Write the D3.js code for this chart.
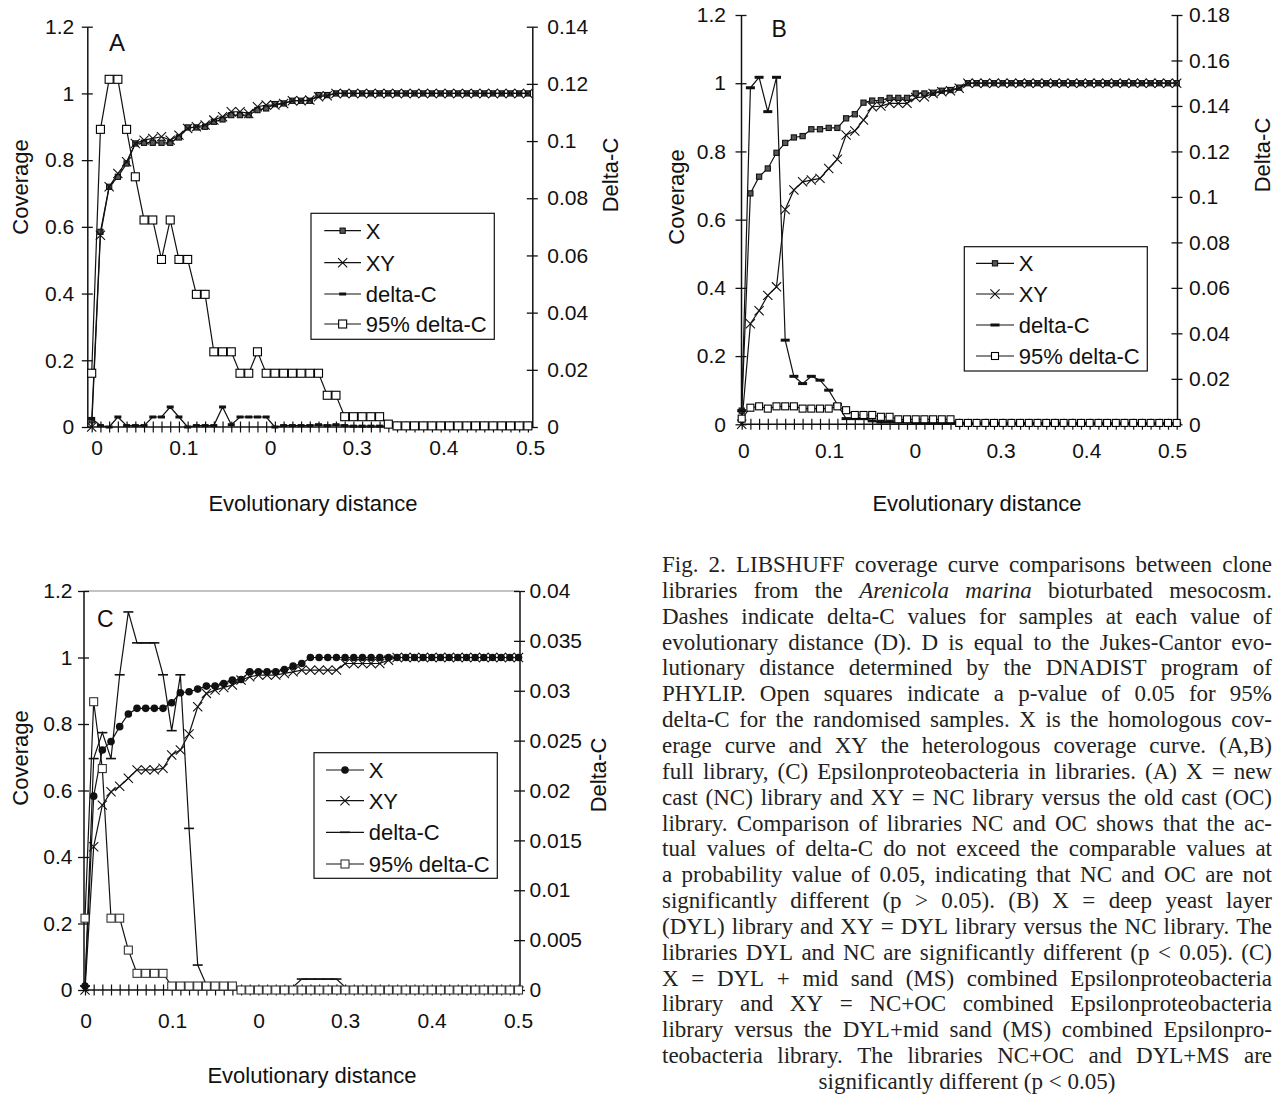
<!DOCTYPE html>
<html><head><meta charset="utf-8">
<script src="https://cdn.jsdelivr.net/npm/d3@7"></script>
<style>body{margin:0;background:#fff} svg{display:block}</style>
</head><body><svg id="c" width="1280" height="1094"></svg>
<script>
// ---------------- DATA ----------------
const distances = [0,0.01,0.02,0.03,0.04,0.05,0.06,0.07,0.08,0.09,0.1,0.11,0.12,0.13,0.14,0.15,0.16,0.17,0.18,0.19,0.2,
  0.21,0.22,0.23,0.24,0.25,0.26,0.27,0.28,0.29,0.3,0.31,0.32,0.33,0.34,0.35,0.36,0.37,0.38,0.39,0.4,
  0.41,0.42,0.43,0.44,0.45,0.46,0.47,0.48,0.49,0.5];
const xLabelValues = [0,0.1,0.2,0.3,0.4,0.5];
const xLabelTexts = ["0","0.1","0","0.3","0.4","0.5"];
const covTicks = [0,0.2,0.4,0.6,0.8,1,1.2];
const covTickLabels = ["0","0.2","0.4","0.6","0.8","1","1.2"];
const dcTicksA = [0,0.02,0.04,0.06,0.08,0.1,0.12,0.14];
const dcTickLabelsA = ["0","0.02","0.04","0.06","0.08","0.1","0.12","0.14"];
const dcTicksB = [0,0.02,0.04,0.06,0.08,0.1,0.12,0.14,0.16,0.18];
const dcTickLabelsB = ["0","0.02","0.04","0.06","0.08","0.1","0.12","0.14","0.16","0.18"];
const dcTicksC = [0,0.005,0.01,0.015,0.02,0.025,0.03,0.035,0.04];
const dcTickLabelsC = ["0","0.005","0.01","0.015","0.02","0.025","0.03","0.035","0.04"];
const legendLabels = ["X","XY","delta-C","95% delta-C"];
const panelLetters = ["A","B","C"];
const xTitle = "Evolutionary distance";
const yTitleLeft = "Coverage";
const yTitleRight = "Delta-C";

// Panel A
const A_X = [0.02,0.585,0.72,0.75,0.79,0.85,0.852,0.852,0.852,0.852,0.868,0.898,0.898,0.9,0.915,0.922,0.935,0.935,0.935,0.95,
  0.955,0.968,0.97,0.978,0.978,0.978,0.995,0.995,1,1,1,1,1,1,1,1,1,1,1,1,1,1,1,1,1,1,1,1,1,1,1];
const A_XY = [0,0.575,0.72,0.76,0.795,0.85,0.86,0.865,0.87,0.86,0.875,0.895,0.9,0.905,0.92,0.93,0.945,0.945,0.94,0.96,
  0.965,0.965,0.97,0.978,0.978,0.98,0.99,0.993,1,1,1,1,1,1,1,1,1,1,1,1,1,1,1,1,1,1,1,1,1,1,1];
const A_dC = [0.003,0.0005,0,0.0035,0.0005,0.0005,0.0005,0.0035,0.0035,0.007,0.0035,0,0.0005,0.0005,0.0005,0.007,0.0008,
  0.0035,0.0035,0.0035,0.0035,0,0.0005,0.0005,0.0005,0.0005,0.0008,0.0005,0.0008,0.0005,
  0.0003,0.0003,0.0003,0.0003,0.0003,0.0003,0.0003,0.0003,0.0003,0.0003,
  0.0002,0.0002,0.0002,0.0002,0.0002,0.0002,0.0002,0.0002,0.0002,0.0002,0.0002];
const A_95 = [0.0188,0.1041,0.1216,0.1216,0.1041,0.0875,0.0724,0.0724,0.0586,0.0724,0.0586,0.0586,0.0464,0.0464,
  0.0263,0.0263,0.0263,0.0188,0.0188,0.0263,0.0188,0.0188,0.0188,0.0188,0.0188,0.0188,0.0188,0.0111,0.0111,
  0.0036,0.0036,0.0036,0.0036,0.0036,0.001,
  0.0004,0.0004,0.0004,0.0004,0.0004,0.0004,0.0004,0.0004,0.0004,0.0004,0.0004,0.0004,0.0004,0.0004,0.0004,0.0004];

// Panel B
const B_X = [0.04,0.677,0.726,0.75,0.796,0.825,0.841,0.845,0.865,0.865,0.869,0.869,0.897,0.909,0.943,0.949,0.95,0.957,
  0.957,0.957,0.97,0.97,0.972,0.978,0.98,0.987,1,1,1,1,1,1,1,1,1,1,1,1,1,1,1,1,1,1,1,1,1,1,1,1,1];
const B_XY = [0,0.295,0.333,0.378,0.403,0.63,0.687,0.711,0.716,0.721,0.75,0.777,0.848,0.86,0.892,0.931,0.933,0.941,
  0.941,0.941,0.958,0.96,0.97,0.975,0.978,0.985,1,1,1,1,1,1,1,1,1,1,1,1,1,1,1,1,1,1,1,1,1,1,1,1,1];
const B_dC = [0.006,0.148,0.1526,0.1375,0.1526,0.037,0.0211,0.0179,0.0211,0.0194,0.015,0.0087,0.0025,0.0025,0.0025,
  0.0015,0.001,0.001,0.001,0.001,
  0.0005,0.0005,0.0005,0.0005,0.0005,0.0004,0.0004,0.0004,0.0004,0.0004,0.0003,0.0003,0.0003,0.0003,0.0003,0.0003,
  0.0003,0.0003,0.0003,0.0003,0.0003,0.0003,0.0003,0.0003,0.0003,0.0003,0.0003,0.0003,0.0003,0.0003,0.0003];
const B_95 = [0.0025,0.0073,0.0079,0.0069,0.0079,0.0079,0.0079,0.0069,0.0069,0.0069,0.0069,0.0079,0.0062,0.0041,0.0041,
  0.0041,0.0033,0.0033,0.0022,0.0022,0.0022,0.0022,0.0022,0.0022,0.0022,
  0.0006,0.0006,0.0006,0.0006,0.0006,0.0006,0.0006,0.0006,0.0006,0.0006,0.0006,0.0006,0.0006,0.0006,0.0006,0.0006,
  0.0006,0.0006,0.0006,0.0006,0.0006,0.0006,0.0006,0.0006,0.0006,0.0006];

// Panel C
const C_X = [0.012,0.583,0.722,0.747,0.792,0.83,0.847,0.847,0.847,0.847,0.864,0.894,0.897,0.905,0.914,0.914,0.922,0.932,
  0.934,0.957,0.957,0.957,0.957,0.964,0.974,0.982,1,1,1,1,1,1,1,1,1,1,1,1,1,1,1,1,1,1,1,1,1,1,1,1,1];
const C_XY = [0,0.431,0.556,0.596,0.613,0.637,0.662,0.662,0.662,0.667,0.707,0.722,0.77,0.852,0.892,0.902,0.91,0.917,
  0.932,0.942,0.947,0.947,0.947,0.952,0.957,0.962,0.962,0.962,0.962,0.962,0.982,0.982,0.982,0.982,0.982,0.992,
  1,1,1,1,1,1,1,1,1,1,1,1,1,1,1];
const C_dC = [0.0004,0.0232,0.0258,0.0232,0.0316,0.0379,0.0348,0.0348,0.0348,0.0316,0.026,0.0316,0.0162,0.0025,0.0005,0.0005,
  0.0003,0.0003,0.0003,0.0003,0.0003,0.0003,0.0003,0.0003,0.0003,
  0.0011,0.0011,0.0011,0.0011,0.0011,
  0.0003,0.0003,0.0003,0.0003,0.0003,0.0003,0.0003,0.0003,0.0003,0.0003,0.0003,0.0003,0.0003,0.0003,0.0003,0.0003,
  0.0003,0.0003,0.0003,0.0003,0.0003];
const C_95 = [0.0072,0.0289,0.0222,0.0072,0.0072,0.004,0.00167,0.00167,0.00167,0.00167,
  0.0004,0.0004,0.0004,0.0004,0.0004,0.0004,0.0004,0.0004,
  0,0,0,0,0,0,0,0,0,0,0,0,0,0,0,0,0,0,0,0,0,0,0,0,0,0,0,0,0,0,0,0,0];

const captionLines = [
  "Fig. 2. LIBSHUFF coverage curve comparisons between clone",
  "libraries from the *Arenicola* *marina* bioturbated mesocosm.",
  "Dashes indicate delta-C values for samples at each value of",
  "evolutionary distance (D). D is equal to the Jukes-Cantor evo-",
  "lutionary distance determined by the DNADIST program of",
  "PHYLIP. Open squares indicate a p-value of 0.05 for 95%",
  "delta-C for the randomised samples. X is the homologous cov-",
  "erage curve and XY the heterologous coverage curve. (A,B)",
  "full library, (C) Epsilonproteobacteria in libraries. (A) X = new",
  "cast (NC) library and XY = NC library versus the old cast (OC)",
  "library. Comparison of libraries NC and OC shows that the ac-",
  "tual values of delta-C do not exceed the comparable values at",
  "a probability value of 0.05, indicating that NC and OC are not",
  "significantly different (p > 0.05). (B) X = deep yeast layer",
  "(DYL) library and XY = DYL library versus the NC library. The",
  "libraries DYL and NC are significantly different (p < 0.05). (C)",
  "X = DYL + mid sand (MS) combined Epsilonproteobacteria",
  "library and XY = NC+OC combined Epsilonproteobacteria",
  "library versus the DYL+mid sand (MS) combined Epsilonpro-",
  "teobacteria library. The libraries NC+OC and DYL+MS are",
  "significantly different (p < 0.05)"
];

// ---------------- LAYOUT ----------------
const SANS = "'Liberation Sans', Arial, Helvetica, sans-serif";
const SERIF = "'Liberation Serif', 'Times New Roman', serif";
const panels = [
  { letter: panelLetters[0], X: A_X, XY: A_XY, dC: A_dC, p95: A_95,
    axL: 87.3, axR: 532.3, ptL: 91.7, ptR: 527.9, top: 26.7, bottom: 427,
    dcTicks: dcTicksA, dcLabels: dcTickLabelsA,
    labL: 96.7, labR: 530, labPad: 13.5, leftGap: 13, rightGap: 15,
    xMarker: "sq", dash: {w: 7, h: 3}, osq: 8, osqStroke: "#000",
    letterPos: [109, 50.5, 24],
    covTitle: [20, 187], dcTitle: [610, 175], xTitlePos: [313, 511],
    legend: {x: 311, y: 213.3, w: 183.3, h: 126, rows: [230.7, 262.7, 294, 324], l1: 324.3, l2: 361, tx: 365.7},
    topBorder: false },
  { letter: panelLetters[1], X: B_X, XY: B_XY, dC: B_dC, p95: B_95,
    axL: 741, axR: 1177, ptL: 741.7, ptR: 1176.7, top: 15, bottom: 424.3,
    dcTicks: dcTicksB, dcLabels: dcTickLabelsB,
    labL: 743.3, labR: 1172, labPad: 19, leftGap: 15, rightGap: 12,
    xMarker: "sq", dash: {w: 9, h: 3}, osq: 7, osqStroke: "#000",
    letterPos: [771.5, 36.7, 23],
    covTitle: [676, 197], dcTitle: [1262, 155], xTitlePos: [977, 511],
    legend: {x: 964.3, y: 246.7, w: 183, h: 124.3, rows: [263.3, 294, 325, 356], l1: 976, l2: 1014, tx: 1018.7},
    topBorder: false },
  { letter: panelLetters[2], X: C_X, XY: C_XY, dC: C_dC, p95: C_95,
    axL: 83.5, axR: 519.5, ptL: 85, ptR: 518.5, top: 591, bottom: 990,
    dcTicks: dcTicksC, dcLabels: dcTickLabelsC,
    labL: 85.7, labR: 518, labPad: 23, leftGap: 11, rightGap: 10,
    xMarker: "dot", dash: {w: 10, h: 1.6}, osq: 8, osqStroke: "#333",
    letterPos: [97, 627.3, 23],
    covTitle: [20, 758], dcTitle: [598, 775], xTitlePos: [312, 1083],
    legend: {x: 314, y: 752.7, w: 183.3, h: 125.6, rows: [770, 800.7, 832.3, 864], l1: 326, l2: 364, tx: 368.7},
    topBorder: true }
];

const svg = d3.select("#c");
svg.append("rect").attr("width", 1280).attr("height", 1094).attr("fill", "#fff");

function marker(g, type, x, y, p) {
  if (type === "sq") {
    g.append("rect").attr("x", x - 2.6).attr("y", y - 2.6).attr("width", 5.2).attr("height", 5.2)
      .attr("fill", "#555").attr("stroke", "#111").attr("stroke-width", 1.1);
  } else if (type === "dot") {
    g.append("circle").attr("cx", x).attr("cy", y).attr("r", 3.8).attr("fill", "#111");
  } else if (type === "cross") {
    const s = 4.6;
    g.append("path").attr("d", `M${x - s},${y - s}L${x + s},${y + s}M${x - s},${y + s}L${x + s},${y - s}`)
      .attr("stroke", "#111").attr("stroke-width", 1.1).attr("fill", "none");
  } else if (type === "dash") {
    g.append("rect").attr("x", x - p.dash.w / 2).attr("y", y - p.dash.h / 2).attr("width", p.dash.w).attr("height", p.dash.h)
      .attr("fill", "#111");
  } else if (type === "osq") {
    const s = p.osq;
    g.append("rect").attr("x", x - s / 2).attr("y", y - s / 2).attr("width", s).attr("height", s)
      .attr("fill", "#fff").attr("stroke", p.osqStroke).attr("stroke-width", 1.1);
  }
}

panels.forEach(p => {
  const g = svg.append("g");
  const x = d3.scalePoint().domain(distances).range([p.ptL, p.ptR]);
  const yCov = d3.scaleLinear().domain([0, 1.2]).range([p.bottom, p.top]);
  const yDc = d3.scaleLinear().domain([0, p.dcTicks[p.dcTicks.length - 1]]).range([p.bottom, p.top]);
  const xl = d3.scaleLinear().domain([0, 0.5]).range([p.labL, p.labR]);

  if (p.topBorder) {
    g.append("line").attr("x1", p.axL).attr("x2", p.axR).attr("y1", p.top).attr("y2", p.top)
      .attr("stroke", "#888").attr("stroke-width", 1.2);
  }

  const gl = g.append("g").attr("transform", `translate(${p.axL},0)`)
    .call(d3.axisLeft(yCov).tickValues(covTicks).tickFormat((d, i) => covTickLabels[i]).tickSize(0).tickPadding(p.leftGap));
  gl.selectAll(".tick line").attr("x1", -5.5).attr("x2", 5.5).attr("stroke", "#111").attr("stroke-width", 1.3);
  gl.select(".domain").attr("stroke", "#111").attr("stroke-width", 1.5);
  gl.attr("font-family", SANS).attr("font-size", 21).selectAll("text").attr("fill", "#111");

  const gr = g.append("g").attr("transform", `translate(${p.axR},0)`)
    .call(d3.axisRight(yDc).tickValues(p.dcTicks).tickFormat((d, i) => p.dcLabels[i]).tickSize(0).tickPadding(p.rightGap));
  gr.selectAll(".tick line").attr("x1", -5.5).attr("x2", 5.5).attr("stroke", "#111").attr("stroke-width", 1.3);
  gr.select(".domain").attr("stroke", "#111").attr("stroke-width", 1.5);
  gr.attr("font-family", SANS).attr("font-size", 21).selectAll("text").attr("fill", "#111");

  g.append("line").attr("x1", p.axL).attr("x2", p.axR).attr("y1", p.bottom).attr("y2", p.bottom)
    .attr("stroke", "#111").attr("stroke-width", 1.5);
  const gx = g.append("g").attr("transform", `translate(0,${p.bottom})`)
    .call(d3.axisBottom(x).tickValues(distances).tickFormat("").tickSize(0));
  gx.select(".domain").remove();
  gx.selectAll(".tick line").attr("y1", -5.5).attr("y2", 5.5).attr("stroke", "#111").attr("stroke-width", 1.2);

  const gxl = g.append("g").attr("transform", `translate(0,${p.bottom})`)
    .call(d3.axisBottom(xl).tickValues(xLabelValues).tickFormat((d, i) => xLabelTexts[i]).tickSize(0).tickPadding(p.labPad));
  gxl.select(".domain").remove();
  gxl.attr("font-family", SANS).attr("font-size", 21).selectAll("text").attr("fill", "#111");

  const series = [
    {vals: p.X, y: yCov, m: p.xMarker},
    {vals: p.XY, y: yCov, m: "cross"},
    {vals: p.dC, y: yDc, m: "dash"},
    {vals: p.p95, y: yDc, m: "osq"}
  ];
  series.forEach(s => {
    const line = d3.line().x((d, i) => x(distances[i])).y(d => s.y(d));
    g.append("path").attr("d", line(s.vals)).attr("fill", "none").attr("stroke", "#111").attr("stroke-width", 1.2);
    const gm = g.append("g");
    s.vals.forEach((v, i) => marker(gm, s.m, x(distances[i]), s.y(v), p));
  });

  const L = p.legend;
  const gL = g.append("g");
  gL.append("rect").attr("x", L.x).attr("y", L.y).attr("width", L.w).attr("height", L.h)
    .attr("fill", "#fff").attr("stroke", "#111").attr("stroke-width", 1.2);
  const lm = [p.xMarker, "cross", "dash", "osq"];
  legendLabels.forEach((t, i) => {
    const yy = L.rows[i];
    gL.append("line").attr("x1", L.l1).attr("x2", L.l2).attr("y1", yy).attr("y2", yy).attr("stroke", "#111").attr("stroke-width", 1.2);
    marker(gL, lm[i], (L.l1 + L.l2) / 2, yy, p);
    gL.append("text").attr("x", L.tx).attr("y", yy).attr("dy", "0.36em").text(t)
      .attr("font-family", SANS).attr("font-size", 22).attr("fill", "#111");
  });

  g.append("text").attr("x", p.letterPos[0]).attr("y", p.letterPos[1]).text(p.letter)
    .attr("font-family", SANS).attr("font-size", p.letterPos[2]).attr("fill", "#111");

  g.append("text").attr("transform", `translate(${p.covTitle[0]},${p.covTitle[1]}) rotate(-90)`)
    .attr("text-anchor", "middle").attr("dy", "0.36em").text(yTitleLeft)
    .attr("font-family", SANS).attr("font-size", 22).attr("fill", "#111");
  g.append("text").attr("transform", `translate(${p.dcTitle[0]},${p.dcTitle[1]}) rotate(-90)`)
    .attr("text-anchor", "middle").attr("dy", "0.36em").text(yTitleRight)
    .attr("font-family", SANS).attr("font-size", 22).attr("fill", "#111");
  g.append("text").attr("x", p.xTitlePos[0]).attr("y", p.xTitlePos[1]).attr("text-anchor", "middle").text(xTitle)
    .attr("font-family", SANS).attr("font-size", 22).attr("fill", "#111");
});

// ---------------- CAPTION (justified) ----------------
const capL = 662, capR = 1272, capY0 = 572, capDy = 25.85, capFs = 23;
const gc = svg.append("g").attr("font-family", SERIF).attr("font-size", capFs).attr("fill", "#222");
captionLines.forEach((ln, li) => {
  const y = capY0 + li * capDy;
  const words = ln.split(" ").map(w => {
    const it = /^\*.*\*$/.test(w);
    return {t: it ? w.slice(1, -1) : w, it};
  });
  const nodes = words.map(w => gc.append("text").attr("y", y).attr("font-style", w.it ? "italic" : "normal").text(w.t));
  let widths = nodes.map(n => n.node().getComputedTextLength());
  let sum = d3.sum(widths);
  const last = li === captionLines.length - 1;
  let gap, xx;
  if (last) {
    gap = capFs * 0.25;
    xx = (capL + capR) / 2 - (sum + gap * (words.length - 1)) / 2;
  } else {
    const minGap = 3.5;
    const avail = capR - capL - minGap * (words.length - 1);
    if (sum > avail) {
      const k = avail / sum;
      nodes.forEach((n, i) => n.attr("textLength", widths[i] * k).attr("lengthAdjust", "spacingAndGlyphs"));
      widths = widths.map(w => w * k);
      sum = d3.sum(widths);
    }
    gap = (capR - capL - sum) / (words.length - 1);
    xx = capL;
  }
  nodes.forEach((n, i) => { n.attr("x", xx); xx += widths[i] + gap; });
});
</script>
</body></html>
